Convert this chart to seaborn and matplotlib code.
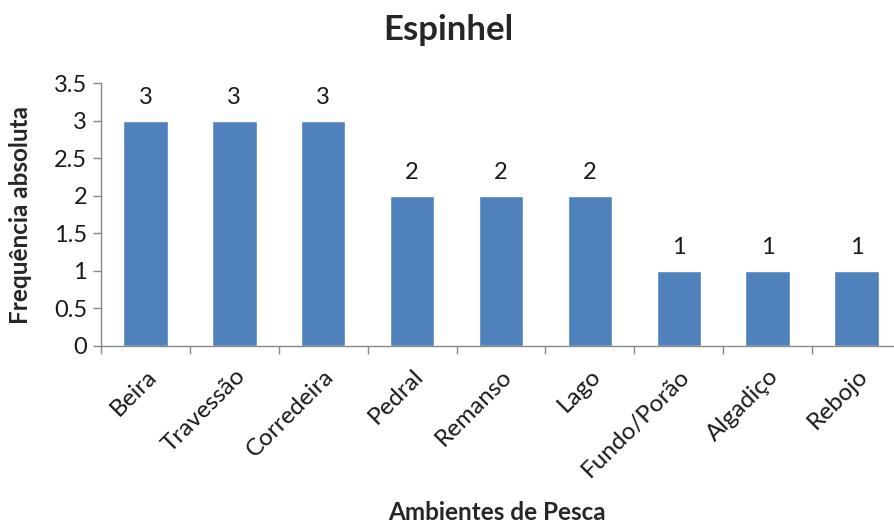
import matplotlib
matplotlib.use("Agg")
import matplotlib.pyplot as plt
import seaborn as sns
import numpy as np

# dados
ambientes = ["Beira", "Travessão", "Corredeira", "Pedral", "Remanso", "Lago",
             "Fundo/Porão", "Algadiço", "Rebojo"]
frequencia = [3, 3, 3, 2, 2, 2, 1, 1, 1]
y_ticks = [0, 0.5, 1, 1.5, 2, 2.5, 3, 3.5]
y_tick_labels = ["0", "0.5", "1", "1.5", "2", "2.5", "3", "3.5"]

sns.set_style("white")
plt.rcParams["font.family"] = ["Lato", "DejaVu Sans"]

fig = plt.figure(figsize=(8.94, 5.25), dpi=100)
ax = fig.add_axes([101 / 894, 179 / 525, 800 / 894, 263 / 525])

sns.barplot(x=ambientes, y=frequencia, color="#4F81BD", saturation=1,
            width=0.5, ax=ax)
ax.bar_label(ax.containers[0], labels=[str(v) for v in frequencia],
             padding=9, fontsize=17, color="#1a1a1a")

ax.set_xlim(-0.5, len(ambientes) - 0.5)
ax.set_ylim(0, 3.5)
ax.set_yticks(y_ticks)
ax.set_yticklabels(y_tick_labels, fontsize=17, color="#1a1a1a")

ax.set_xticks(range(len(ambientes)))
ax.set_xticklabels(ambientes, rotation=45, ha="right", rotation_mode="anchor",
                   fontsize=17.5, color="#1a1a1a")
ax.set_xticks(np.arange(-0.5, len(ambientes), 1), minor=True)
ax.tick_params(axis="x", which="major", length=0, pad=14)
ax.tick_params(axis="x", which="minor", length=6, width=1, color="#888888",
               direction="out", bottom=True)
ax.tick_params(axis="y", length=6, width=1, color="#888888", direction="out",
               left=True, pad=4)

for s in ["top", "right"]:
    ax.spines[s].set_visible(False)
for s in ["left", "bottom"]:
    ax.spines[s].set_color("#888888")
    ax.spines[s].set_linewidth(1)

ax.set_xlabel("")
ax.set_ylabel("Frequência absoluta", fontsize=17.5, fontweight="bold")
ax.yaxis.set_label_coords(-0.086, 0.5)

fig.text(448 / 894, 1 - 30 / 525, "Espinhel", ha="center", va="center",
         fontsize=25, fontweight="bold")
fig.text(497 / 894, 13 / 525, "Ambientes de Pesca", ha="center", va="center",
         fontsize=17.5, fontweight="bold")

fig.savefig("out.png", dpi=100)
